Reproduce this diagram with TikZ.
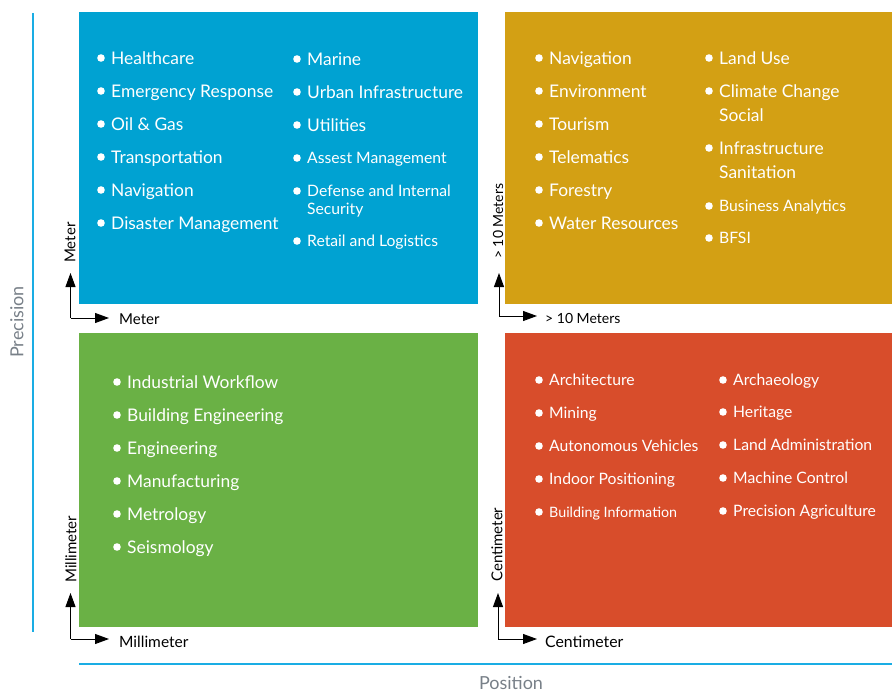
\documentclass[tikz,border=0pt]{standalone}
\usepackage{fontspec}
\setmainfont{Lato}
\usetikzlibrary{arrows.meta}
\definecolor{qblue}{RGB}{0,162,210}
\definecolor{qyellow}{RGB}{211,160,20}
\definecolor{qgreen}{RGB}{106,177,69}
\definecolor{qred}{RGB}{216,77,43}
\definecolor{qline}{RGB}{26,173,228}
\definecolor{qgray}{RGB}{120,128,136}
\newcommand\qitm[5]{%
  \fill[white] ({#2-10},#3) circle (3.8);
  \node[item,font=\fontsize{#4}{#4}\selectfont] (#1) at (#2,{#3+0.36*#4}) {#5};}
\newcommand\qlin[5]{%
  \node[item,font=\fontsize{#4}{#4}\selectfont] (#1) at (#2,{#3+0.36*#4}) {#5};}
\begin{document}
\begin{tikzpicture}[x=1pt,y=-1pt,
  quad/.style={anchor=north west,inner sep=0pt,minimum width=399pt,minimum height=292pt,draw=none},
  item/.style={anchor=base west,inner sep=0pt,text=white},
  axarrow/.style={line width=0.9pt,-{Triangle[length=14pt,width=10pt]}},
  axlab/.style={inner sep=0pt,text=black},
  biglab/.style={inner sep=0pt,font=\fontsize{18}{18}\selectfont,text=qgray},
  rule/.style={draw=qline,line width=2pt}]
\useasboundingbox (0,0) rectangle (892,693);
% quadrants
\node[quad,fill=qblue] (blue) at (79,12) {};
\node[quad,fill=qyellow,minimum width=387pt] (yellow) at (505,12) {};
\node[quad,fill=qgreen,minimum height=294pt] (green) at (79,333) {};
\node[quad,fill=qred,minimum width=387pt,minimum height=294pt] (red) at (505,333) {};
% blue items
\qitm{b1}{111}{58}{17.4}{Healthcare}
\qitm{b2}{111}{91}{17.4}{Emergency Response}
\qitm{b3}{111}{124}{17.4}{Oil \& Gas}
\qitm{b4}{111}{157}{17.4}{Transportation}
\qitm{b5}{111}{190}{17.4}{Navigation}
\qitm{b6}{111}{223}{17.4}{Disaster Management}
\qitm{b7}{307}{59}{17.4}{Marine}
\qitm{b8}{307}{92}{17.4}{Urban Infrastructure}
\qitm{b9}{307}{125}{17.4}{Utilities}
\qitm{b10}{307}{158}{15.7}{Assest Management}
\qitm{b11}{307}{191}{15.7}{Defense and Internal}
\qlin{b11b}{307}{209}{15.7}{Security}
\qitm{b12}{307}{241}{15.7}{Retail and Logistics}
% yellow items
\qitm{y1}{549}{58}{17.4}{Navigation}
\qitm{y2}{549}{91}{17.4}{Environment}
\qitm{y3}{549}{124}{17.4}{Tourism}
\qitm{y4}{549}{157}{17.4}{Telematics}
\qitm{y5}{549}{190}{17.4}{Forestry}
\qitm{y6}{549}{223}{17.4}{Water Resources}
\qitm{y7}{719}{58}{17.4}{Land Use}
\qitm{y8}{719}{91}{17.4}{Climate Change}
\qlin{y8b}{719}{115}{17.4}{Social}
\qitm{y9}{719}{148}{17.4}{Infrastructure}
\qlin{y9b}{719}{172}{17.4}{Sanitation}
\qitm{y10}{719}{206}{15.7}{Business Analytics}
\qitm{y11}{719}{238}{15.7}{BFSI}
% green items
\qitm{g1}{127}{382}{17.4}{Industrial Workflow}
\qitm{g2}{127}{415}{17.4}{Building Engineering}
\qitm{g3}{127}{448}{17.4}{Engineering}
\qitm{g4}{127}{481}{17.4}{Manufacturing}
\qitm{g5}{127}{514}{17.4}{Metrology}
\qitm{g6}{127}{547}{17.4}{Seismology}
% red items
\qitm{r1}{549}{380}{15.7}{Architecture}
\qitm{r2}{549}{413}{15.7}{Mining}
\qitm{r3}{549}{446}{15.7}{Autonomous Vehicles}
\qitm{r4}{549}{479}{15.7}{Indoor Positioning}
\qitm{r5}{549}{512}{14.3}{Building Information}
\qitm{r6}{733}{380}{15.7}{Archaeology}
\qitm{r7}{733}{412}{15.7}{Heritage}
\qitm{r8}{733}{445}{15.7}{Land Administration}
\qitm{r9}{733}{478}{15.7}{Machine Control}
\qitm{r10}{733}{511}{15.7}{Precision Agriculture}
% small axes: meter
\coordinate (m1c) at (70.5,318);
\coordinate (m1u) at (70.5,273);
\coordinate (m1r) at (109,318);
\draw[axarrow] (m1c) -- (m1u);
\draw[axarrow] (m1c) -- (m1r);
\node[axlab,font=\fontsize{15}{15}\selectfont,anchor=west] (m1x) at (119,319) {Meter};
\node[axlab,font=\fontsize{15}{15}\selectfont,anchor=west,rotate=90] (m1y) at (70,263) {Meter};
% >10 meters
\coordinate (m2c) at (499,316);
\coordinate (m2u) at (499,273);
\coordinate (m2r) at (537,316);
\draw[axarrow] (m2c) -- (m2u);
\draw[axarrow] (m2c) -- (m2r);
\node[axlab,font=\fontsize{14}{14}\selectfont,anchor=west] (m2x) at (545,318) {> 10 Meters};
\node[axlab,font=\fontsize{14}{14}\selectfont,anchor=west,rotate=90] (m2y) at (498,259) {> 10 Meters};
% millimeter
\coordinate (m3c) at (70.5,639);
\coordinate (m3u) at (70.5,593);
\coordinate (m3r) at (109,639);
\draw[axarrow] (m3c) -- (m3u);
\draw[axarrow] (m3c) -- (m3r);
\node[axlab,font=\fontsize{15.5}{15.5}\selectfont,anchor=west] (m3x) at (119,642) {Millimeter};
\node[axlab,font=\fontsize{15}{15}\selectfont,anchor=west,rotate=90] (m3y) at (71,583) {Millimeter};
% centimeter
\coordinate (m4c) at (498,639);
\coordinate (m4u) at (498,593);
\coordinate (m4r) at (537,639);
\draw[axarrow] (m4c) -- (m4u);
\draw[axarrow] (m4c) -- (m4r);
\node[axlab,font=\fontsize{15.8}{15.8}\selectfont,anchor=west] (m4x) at (545,642) {Centimeter};
\node[axlab,font=\fontsize{15}{15}\selectfont,anchor=west,rotate=90] (m4y) at (497,582) {Centimeter};
% big axes
\coordinate (pv1) at (33,13);
\coordinate (pv2) at (33,632);
\draw[rule] (pv1) -- (pv2);
\coordinate (ph1) at (79,664);
\coordinate (ph2) at (892,664);
\draw[rule] (ph1) -- (ph2);
\node[biglab,rotate=90] (prec) at (17,322) {Precision};
\node[biglab] (pos) at (511,683) {Position};
\end{tikzpicture}
\end{document}
